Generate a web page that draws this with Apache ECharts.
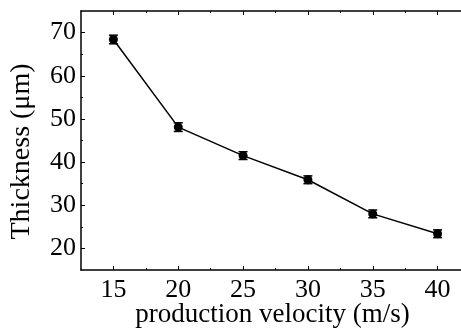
<!DOCTYPE html>
<html>
<head>
<meta charset="utf-8">
<script src="https://cdn.jsdelivr.net/npm/echarts@6/dist/echarts.min.js"></script>
<style>
  html, body { margin: 0; padding: 0; background: #fff; }
  #chart { width: 461px; height: 331px; }
</style>
</head>
<body>
<div id="chart"></div>
<script>
const velocity = [15, 20, 25, 30, 35, 40]
const thickness = [68.4, 48.1, 41.5, 35.9, 28.0, 23.4]
const thicknessErr = [1.0, 1.0, 0.9, 0.9, 0.9, 0.9]
const xMajor = [15, 20, 25, 30, 35, 40]
const xMinor = [17.5, 22.5, 27.5, 32.5, 37.5]
const yMajor = [20, 30, 40, 50, 60, 70]
const yMinor = [25, 35, 45, 55, 65]

const font = 'Liberation Serif'
const black = '#000'

const chart = echarts.init(document.getElementById('chart'))

function tickAxis(position, values, len, extra) {
  return Object.assign({
    type: 'value',
    position: position,
    axisLine: { show: false, onZero: false },
    axisTick: { show: true, inside: true, length: len, customValues: values, lineStyle: { color: black, width: 1 } },
    axisLabel: { show: false },
    splitLine: { show: false }
  }, extra)
}

const xRange = { min: 12.5, max: 42.5 }
const yRange = { min: 15, max: 75 }

const options = {
  animation: false,
  backgroundColor: '#fff',
  grid: { left: 81, top: 11, right: -9, bottom: 61, containLabel: false, outerBoundsMode: 'none' },
  xAxis: [
    {
      type: 'value',
      position: 'bottom',
      min: xRange.min,
      max: xRange.max,
      name: 'production velocity (m/s)',
      nameLocation: 'middle',
      nameGap: 31,
      nameMoveOverlap: false,
      nameTextStyle: { fontFamily: font, fontSize: 27, color: black, padding: [0, 6, 0, 0] },
      axisLine: { show: true, onZero: false, lineStyle: { color: black, width: 1.5 } },
      axisTick: { show: true, inside: true, length: 4, customValues: xMajor, lineStyle: { color: black, width: 1 } },
      axisLabel: { show: true, customValues: xMajor, fontFamily: font, fontSize: 26, color: black, margin: 7 },
      splitLine: { show: false }
    },
    tickAxis('bottom', xMinor, 2, xRange),
    tickAxis('top', xMajor, 4, Object.assign({
      axisLine: { show: true, onZero: false, lineStyle: { color: black, width: 1.5 } }
    }, xRange)),
    tickAxis('top', xMinor, 2, xRange)
  ],
  yAxis: [
    {
      type: 'value',
      position: 'left',
      min: yRange.min,
      max: yRange.max,
      name: 'Thickness (μm)',
      nameLocation: 'middle',
      nameGap: 45,
      nameMoveOverlap: false,
      nameTextStyle: { fontFamily: font, fontSize: 28, color: black, padding: [0, 22, 0, 0] },
      axisLine: { show: true, onZero: false, lineStyle: { color: black, width: 1.5 } },
      axisTick: { show: true, inside: true, length: 4, customValues: yMajor, lineStyle: { color: black, width: 1 } },
      axisLabel: { show: true, customValues: yMajor, fontFamily: font, fontSize: 26, color: black, margin: 5 },
      splitLine: { show: false }
    },
    tickAxis('left', yMinor, 2, yRange)
  ],
  series: [
    {
      type: 'custom',
      xAxisIndex: 0,
      yAxisIndex: 0,
      data: velocity.map((v, i) => [v, thickness[i] - thicknessErr[i], thickness[i] + thicknessErr[i]]),
      renderItem: function (params, api) {
        const lo = api.coord([api.value(0), api.value(1)])
        const hi = api.coord([api.value(0), api.value(2)])
        const hw = 4.5
        const style = { stroke: black, lineWidth: 1.5 }
        return {
          type: 'group',
          children: [
            { type: 'line', shape: { x1: lo[0], y1: lo[1], x2: hi[0], y2: hi[1] }, style: style },
            { type: 'line', shape: { x1: lo[0] - hw, y1: lo[1], x2: lo[0] + hw, y2: lo[1] }, style: style },
            { type: 'line', shape: { x1: hi[0] - hw, y1: hi[1], x2: hi[0] + hw, y2: hi[1] }, style: style }
          ]
        }
      },
      z: 3
    },
    {
      type: 'line',
      xAxisIndex: 0,
      yAxisIndex: 0,
      data: velocity.map((v, i) => [v, thickness[i]]),
      symbol: 'circle',
      symbolSize: 9,
      showSymbol: true,
      itemStyle: { color: black },
      lineStyle: { color: black, width: 1.5 },
      z: 2
    }
  ]
}

chart.setOption(options)
</script>
</body>
</html>
